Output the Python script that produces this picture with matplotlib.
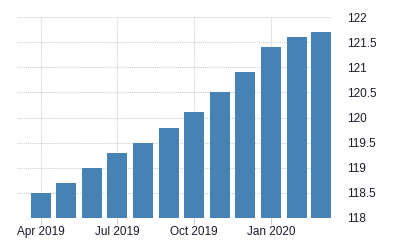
import datetime as dt
import matplotlib
matplotlib.use('Agg')
import matplotlib.pyplot as plt
import matplotlib.dates as mdates

months = ['2019-04', '2019-05', '2019-06', '2019-07', '2019-08', '2019-09',
          '2019-10', '2019-11', '2019-12', '2020-01', '2020-02', '2020-03']
values = [118.5, 118.7, 119.0, 119.3, 119.5, 119.8,
          120.1, 120.5, 120.9, 121.4, 121.6, 121.7]
tick_months = ['2019-04', '2019-07', '2019-10', '2020-01']
tick_labels = ['Apr 2019', 'Jul 2019', 'Oct 2019', 'Jan 2020']
y_ticks = [118, 118.5, 119, 119.5, 120, 120.5, 121, 121.5, 122]

def to_date(s):
    return dt.datetime.strptime(s, '%Y-%m')

dates = [to_date(m) for m in months]

fig = plt.figure(figsize=(4, 2.5), dpi=100)
ax = fig.add_axes([0.0425, 0.128, 0.7875, 0.804])

ax.bar(dates, values, width=24, color='#4682b4', zorder=2)

ax.set_ylim(118, 122)
ax.set_xlim(dt.datetime(2019, 3, 3), dt.datetime(2020, 3, 14))
ax.set_yticks(y_ticks)
ax.set_yticklabels(['%g' % v for v in y_ticks])
ax.set_xticks([mdates.date2num(to_date(m)) for m in tick_months])
ax.set_xticklabels(tick_labels)

ax.yaxis.tick_right()
for s in ax.spines.values():
    s.set_visible(False)

ax.grid(True, color='#cccccc', linestyle=(0, (1, 1)), linewidth=0.75, zorder=0)
ax.tick_params(axis='y', length=0, pad=11, labelsize=8.5, labelcolor='#1a1a2a')
ax.tick_params(axis='x', length=4, width=0.75, color='#cccccc', pad=2,
               labelsize=8.5, labelcolor='#1a1a2a')
for lab in ax.get_xticklabels() + ax.get_yticklabels():
    lab.set_family('Liberation Sans')

fig.savefig('out.png', dpi=100)
